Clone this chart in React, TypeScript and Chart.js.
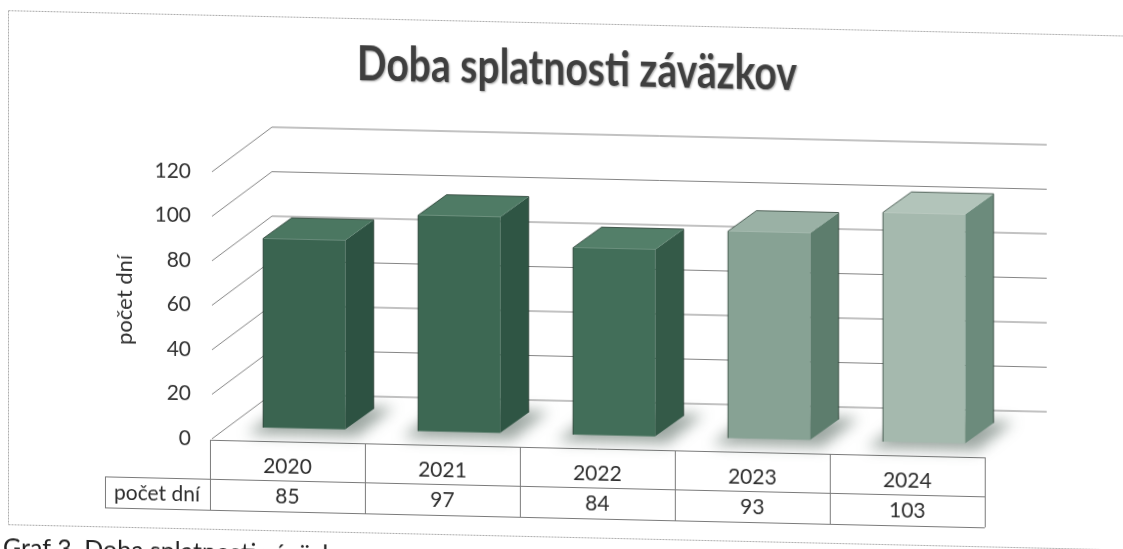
import React, { useEffect, useRef } from "react";
import { Chart, registerables } from "chart.js";

Chart.register(...registerables);

const chartTitle = "Doba splatnosti záväzkov";
const captionText = "Graf 3. Doba splatnosti záväzkov";
const axisTitle = "počet dní";
const rowLabel = "počet dní";
const years = ["2020", "2021", "2022", "2023", "2024"];
const days = [85, 97, 84, 93, 103];
const yTicks = [0, 20, 40, 60, 80, 100, 120];

const frontColors = ["#3a6450", "#3d6853", "#426e59", "#87a294", "#a5b9ae"];
const sideColors = ["#2d5242", "#2f5544", "#345a48", "#5d7d6d", "#6c8b7c"];
const topColors = ["#4b7761", "#4f7b65", "#537f69", "#9ab1a5", "#b2c4ba"];

const FONT = "Lato, 'Open Sans', sans-serif";
const DEPTH_X = 62;
const DEPTH_Y = -46;
const F0 = 0.27;
const F1 = 0.73;

const pseudo3d = {
  id: "pseudo3d",
  beforeDatasetsDraw(chart: any) {
    const ctx = chart.ctx as CanvasRenderingContext2D;
    const { left, right, bottom } = chart.chartArea;
    const ys = chart.scales.y;
    const xs = chart.scales.x;
    ctx.save();

    // frame
    ctx.strokeStyle = "#a8a8a8";
    ctx.lineWidth = 1;
    ctx.setLineDash([2, 1]);
    ctx.beginPath();
    ctx.moveTo(8.5, 10.5);
    ctx.lineTo(1123, 10.5);
    ctx.moveTo(8.5, 10.5);
    ctx.lineTo(8.5, 524.5);
    ctx.moveTo(8.5, 524.5);
    ctx.lineTo(1123, 524.5);
    ctx.stroke();
    ctx.setLineDash([]);

    // title
    ctx.save();
    ctx.font = `bold 44px ${FONT}`;
    const tw = ctx.measureText(chartTitle).width;
    const sx = 440 / tw;
    ctx.translate(577, 72);
    ctx.scale(sx, 1.08);
    ctx.fillStyle = "#3f3f3f";
    ctx.textAlign = "center";
    ctx.textBaseline = "alphabetic";
    ctx.shadowColor = "rgba(0,0,0,0.35)";
    ctx.shadowOffsetX = 1;
    ctx.shadowOffsetY = 1;
    ctx.shadowBlur = 2;
    ctx.fillText(chartTitle, 0, 0);
    ctx.restore();

    // caption
    ctx.font = `25px ${FONT}`;
    ctx.fillStyle = "#222222";
    ctx.textAlign = "left";
    ctx.textBaseline = "alphabetic";
    ctx.fillText(captionText, 3, 556);

    // axis title
    ctx.save();
    ctx.translate(125, 297);
    ctx.rotate(-Math.PI / 2);
    ctx.font = `22px ${FONT}`;
    ctx.fillStyle = "#333333";
    ctx.textAlign = "center";
    ctx.textBaseline = "middle";
    ctx.fillText(axisTitle, 0, 0);
    ctx.restore();

    // y tick labels
    ctx.font = `21px ${FONT}`;
    ctx.fillStyle = "#333333";
    ctx.textAlign = "right";
    ctx.textBaseline = "middle";
    yTicks.forEach((t) => {
      ctx.fillText(String(t), 191, ys.getPixelForValue(t));
    });

    // gridlines on left wall and back wall
    ctx.strokeStyle = "#858585";
    ctx.lineWidth = 1;
    yTicks.forEach((t) => {
      const y = ys.getPixelForValue(t);
      ctx.beginPath();
      ctx.moveTo(left + 2, y);
      ctx.lineTo(left + DEPTH_X, y + DEPTH_Y);
      ctx.lineTo(right + DEPTH_X, y + DEPTH_Y);
      ctx.stroke();
    });

    // table
    const cellW = (right - left) / years.length;
    const tTop = bottom + 1;
    const tMid = 474;
    const tBot = 505;
    ctx.strokeStyle = "#7a7a7a";
    ctx.beginPath();
    ctx.moveTo(left, tTop + 0.5);
    ctx.lineTo(right, tTop + 0.5);
    ctx.moveTo(105, tMid + 0.5);
    ctx.lineTo(right, tMid + 0.5);
    ctx.moveTo(105, tBot + 0.5);
    ctx.lineTo(right, tBot + 0.5);
    ctx.moveTo(105.5, tMid);
    ctx.lineTo(105.5, tBot);
    for (let i = 0; i <= years.length; i++) {
      const x = Math.round(left + i * cellW) + 0.5;
      ctx.moveTo(x, tTop);
      ctx.lineTo(x, tBot);
    }
    ctx.stroke();

    ctx.font = `21px ${FONT}`;
    ctx.fillStyle = "#2e2e2e";
    ctx.textAlign = "center";
    ctx.textBaseline = "middle";
    years.forEach((yr, i) => {
      const cx = xs.getPixelForValue(i);
      ctx.fillText(yr, cx, 460);
      ctx.fillText(String(days[i]), cx, 490);
    });
    ctx.fillText(rowLabel, 157, 490);

    // shadows on floor
    const meta = chart.getDatasetMeta(0);
    meta.data.forEach((el: any) => {
      const p = el.getProps(["x", "base", "width"], true);
      const w = p.width;
      const fx = p.x - w / 2 + DEPTH_X * F0;
      const fy = p.base + DEPTH_Y * F0;
      const dx = DEPTH_X * (F1 - F0);
      const dy = DEPTH_Y * (F1 - F0);
      ctx.save();
      ctx.filter = "blur(7px)";
      ctx.fillStyle = "rgba(60,80,70,0.5)";
      ctx.beginPath();
      ctx.moveTo(fx - 16, fy + 7);
      ctx.lineTo(fx + w + 12, fy + 7);
      ctx.lineTo(fx + w + dx + 20, fy + dy - 2);
      ctx.lineTo(fx + dx - 6, fy + dy - 2);
      ctx.closePath();
      ctx.fill();
      ctx.restore();
    });

    ctx.restore();
  },
  afterDatasetsDraw(chart: any) {
    const ctx = chart.ctx as CanvasRenderingContext2D;
    const meta = chart.getDatasetMeta(0);
    ctx.save();
    meta.data.forEach((el: any, i: number) => {
      const p = el.getProps(["x", "y", "base", "width"], true);
      const w = p.width;
      const fx = p.x - w / 2 + DEPTH_X * F0;
      const fTop = p.y + DEPTH_Y * F0;
      const fBot = p.base + DEPTH_Y * F0;
      const dx = DEPTH_X * (F1 - F0);
      const dy = DEPTH_Y * (F1 - F0);

      // side face
      ctx.fillStyle = sideColors[i];
      ctx.beginPath();
      ctx.moveTo(fx + w, fTop);
      ctx.lineTo(fx + w + dx, fTop + dy);
      ctx.lineTo(fx + w + dx, fBot + dy);
      ctx.lineTo(fx + w, fBot);
      ctx.closePath();
      ctx.fill();

      // top face
      ctx.fillStyle = topColors[i];
      ctx.beginPath();
      ctx.moveTo(fx, fTop);
      ctx.lineTo(fx + dx, fTop + dy);
      ctx.lineTo(fx + w + dx, fTop + dy);
      ctx.lineTo(fx + w, fTop);
      ctx.closePath();
      ctx.fill();

      // front face
      ctx.fillStyle = frontColors[i];
      ctx.fillRect(fx, fTop, w, fBot - fTop);

      ctx.strokeStyle = "rgba(25,45,35,0.7)";
      ctx.lineWidth = 1;
      ctx.beginPath();
      ctx.moveTo(fx, fBot);
      ctx.lineTo(fx, fTop);
      ctx.lineTo(fx + dx, fTop + dy);
      ctx.lineTo(fx + w + dx, fTop + dy);
      ctx.lineTo(fx + w + dx, fBot + dy);
      ctx.stroke();
    });
    ctx.restore();
  },
};

export default function App() {
  const ref = useRef<HTMLCanvasElement | null>(null);

  useEffect(() => {
    document.body.style.margin = "0";
    if (!ref.current) return;
    const chart = new Chart(ref.current, {
      type: "bar",
      data: {
        labels: years,
        datasets: [
          {
            label: rowLabel,
            data: days,
            backgroundColor: "rgba(0,0,0,0)",
            borderWidth: 0,
            barPercentage: 0.53,
            categoryPercentage: 1,
          },
        ],
      },
      options: {
        responsive: false,
        animation: false,
        devicePixelRatio: 1,
        layout: { padding: { left: 210, right: 138, top: 167, bottom: 115 } },
        scales: {
          x: { display: false, offset: true },
          y: { display: false, min: 0, max: 120, ticks: { stepSize: 20 } },
        },
        plugins: {
          legend: { display: false },
          tooltip: { enabled: false },
          title: { display: false },
        },
      },
      plugins: [pseudo3d],
    });
    return () => chart.destroy();
  }, []);

  return (
    <div
      style={{
        position: "fixed",
        left: 0,
        top: 0,
        width: 1123,
        height: 549,
        overflow: "hidden",
        background: "#ffffff",
      }}
    >
      <canvas
        ref={ref}
        width={1123}
        height={549}
        style={{
          display: "block",
          transform: "skewY(1.3deg)",
          transformOrigin: "0 0",
        }}
      />
    </div>
  );
}
